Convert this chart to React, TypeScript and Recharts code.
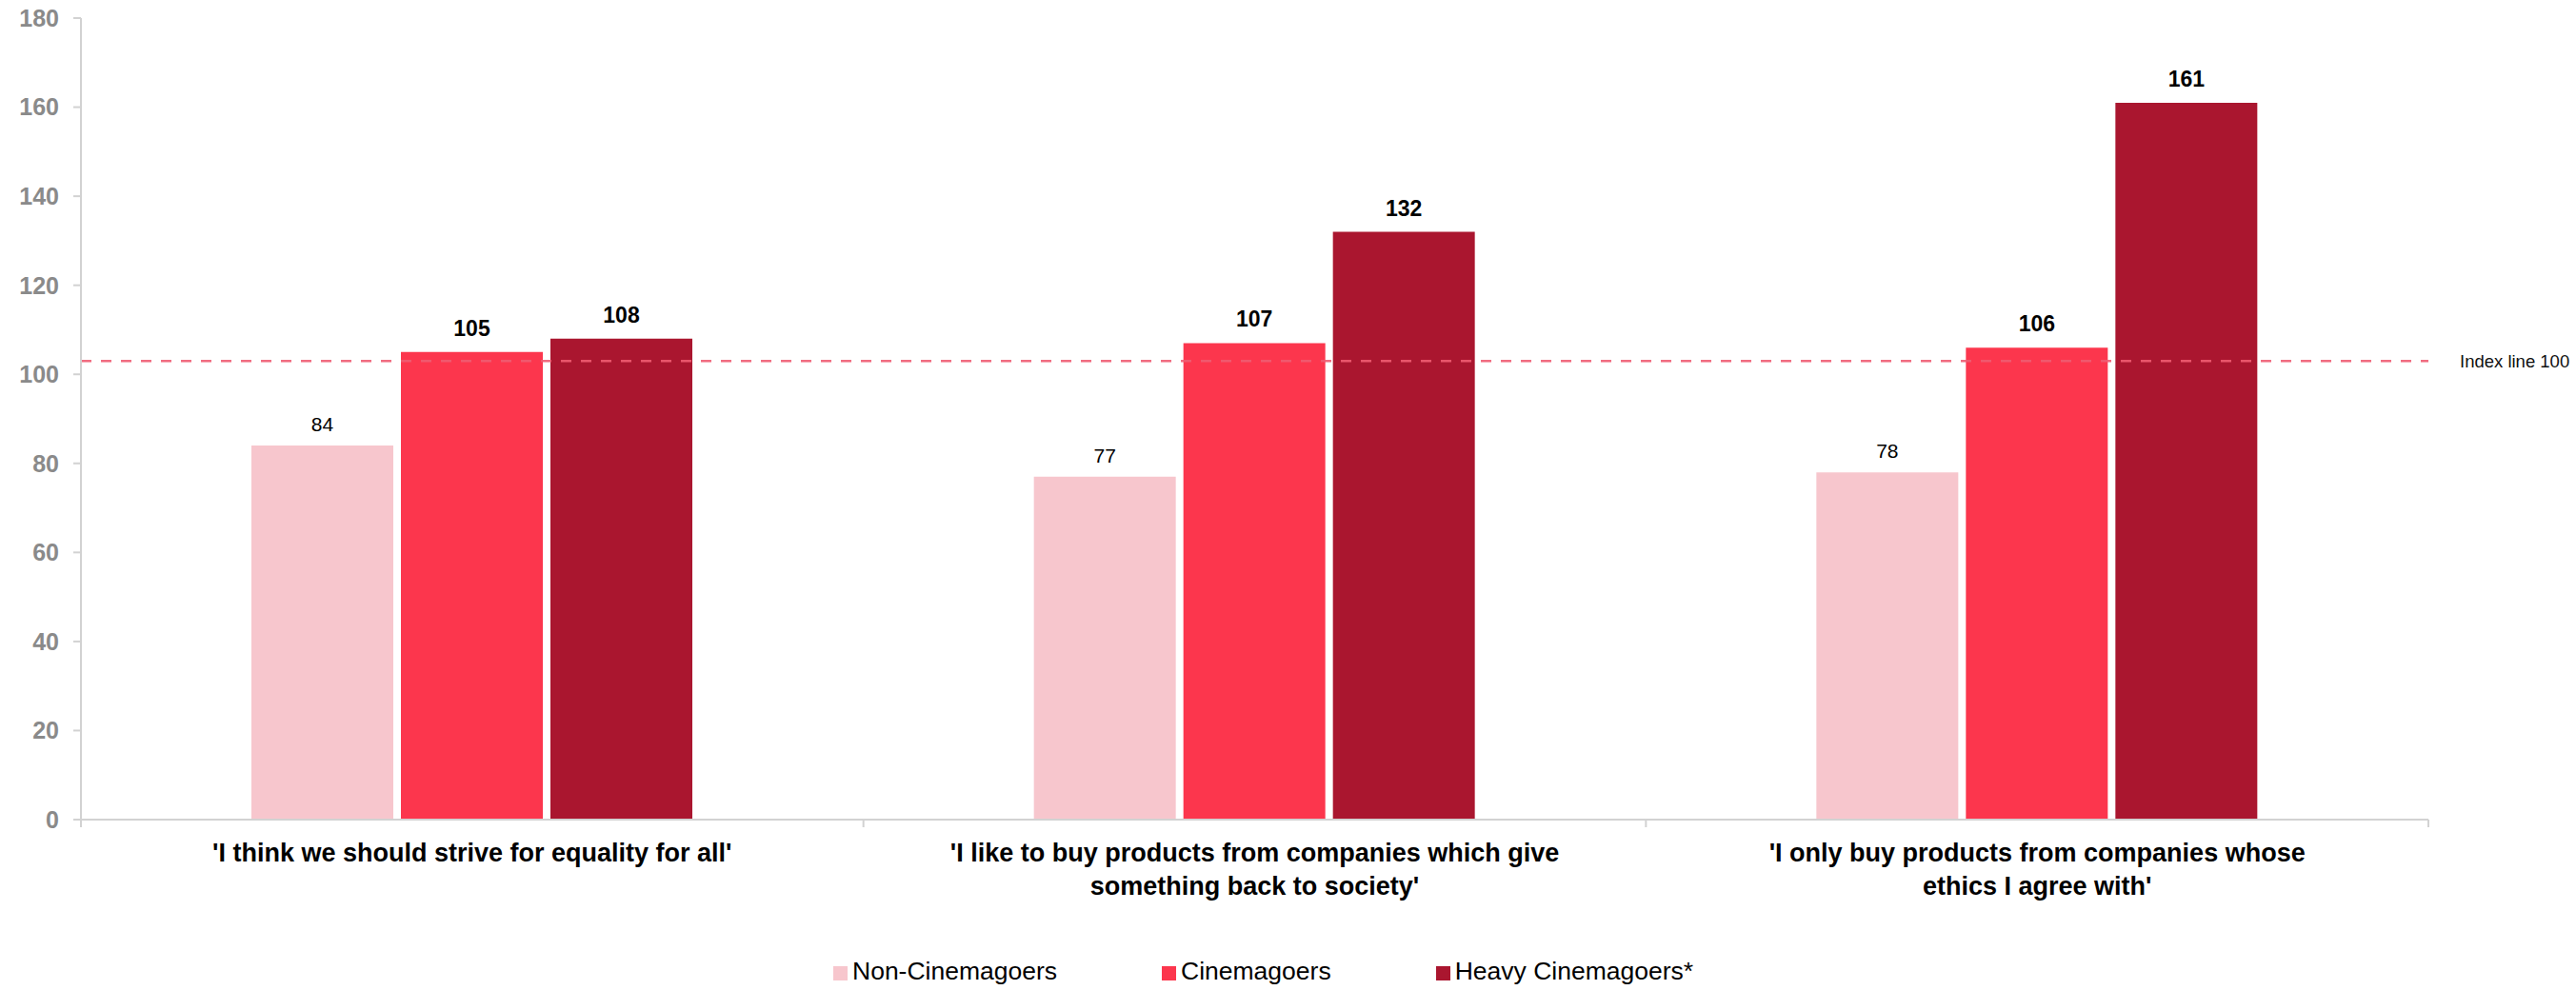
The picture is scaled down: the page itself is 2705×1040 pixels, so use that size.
import React from 'react';
import { BarChart, Bar, XAxis, YAxis, ReferenceLine, LabelList, Legend } from 'recharts';

// ---- data ----
const CATEGORY_LINES: string[][] = [
  ["'I think we should strive for equality for all'"],
  ["'I like to buy products from companies which give", "something back to society'"],
  ["'I only buy products from companies whose", "ethics I agree with'"],
];
const NON_CINEMAGOERS = [84, 77, 78];
const CINEMAGOERS = [105, 107, 106];
const HEAVY_CINEMAGOERS = [108, 132, 161];
const SERIES_NAMES = ['Non-Cinemagoers', 'Cinemagoers', 'Heavy Cinemagoers*'];
const Y_TICKS = [0, 20, 40, 60, 80, 100, 120, 140, 160, 180];
const INDEX_LINE_Y = 103;
const INDEX_LABEL = 'Index line 100';

// ---- style ----
const FONT = 'Arial, "Liberation Sans", sans-serif';
const COLORS = ['#F7C6CD', '#FC364D', '#AA162F'];
const AXIS_COLOR = '#D2D2D2';
const W = 2705;
const H = 1040;
const Y_AXIS_W = 85;
const M_RIGHT = 155;
const BAND_HALF = (W - Y_AXIS_W - M_RIGHT) / CATEGORY_LINES.length / 2;

const data = CATEGORY_LINES.map((lines, i) => ({
  category: lines.join(' '),
  lines,
  non: NON_CINEMAGOERS[i],
  cine: CINEMAGOERS[i],
  heavy: HEAVY_CINEMAGOERS[i],
}));

const CategoryTick = (props: any) => {
  const { x, y, payload, index } = props;
  const half = payload && typeof payload.offset === 'number' && payload.offset > 0 ? payload.offset : BAND_HALF;
  const lines = data[index] ? data[index].lines : [String(payload.value)];
  return (
    <g>
      <line x1={x - half} x2={x - half} y1={y} y2={y + 8} stroke={AXIS_COLOR} strokeWidth={2} />
      {index === data.length - 1 && (
        <line x1={x + half} x2={x + half} y1={y} y2={y + 8} stroke={AXIS_COLOR} strokeWidth={2} />
      )}
      <text x={x} y={y} textAnchor="middle" fontFamily={FONT} fontWeight="bold" fontSize={27} fill="#000">
        {lines.map((l: string, k: number) => (
          <tspan key={k} x={x} dy={k === 0 ? 44 : 35}>{l}</tspan>
        ))}
      </text>
    </g>
  );
};

const LegendContent = () => (
  <div style={{ display: 'flex', alignItems: 'flex-end', fontFamily: FONT, fontSize: 26.5, color: '#000', whiteSpace: 'nowrap' }}>
    {SERIES_NAMES.map((n, i) => (
      <div key={n} style={{ display: 'flex', alignItems: 'flex-end', marginRight: i < SERIES_NAMES.length - 1 ? 110 : 0 }}>
        <div style={{ width: 15, height: 15, background: COLORS[i], marginRight: 5, marginBottom: 5 }} />
        <span style={{ lineHeight: '30px' }}>{n}</span>
      </div>
    ))}
  </div>
);

export default function App() {
  return (
    <div style={{ position: 'absolute', left: 0, top: 0, width: W, height: H, background: '#fff' }}>
      <BarChart
        width={W}
        height={H}
        data={data}
        margin={{ top: 19, right: M_RIGHT, bottom: 79, left: 0 }}
        barSize={149}
        barGap={8}
      >
        <XAxis
          dataKey="category"
          interval={0}
          height={100}
          axisLine={{ stroke: AXIS_COLOR, strokeWidth: 2 }}
          tickLine={false}
          tickSize={0}
          tickMargin={0}
          tick={<CategoryTick />}
        />
        <YAxis
          width={Y_AXIS_W}
          domain={[0, 180]}
          ticks={Y_TICKS}
          interval={0}
          axisLine={{ stroke: AXIS_COLOR, strokeWidth: 2 }}
          tickLine={{ stroke: AXIS_COLOR, strokeWidth: 2 }}
          tickSize={8}
          tickMargin={15}
          tick={{ fill: '#8A8A8A', fontSize: 25, fontWeight: 'bold', fontFamily: FONT }}
        />
        <Legend
          layout="vertical"
          align="center"
          verticalAlign="middle"
          content={<LegendContent />}
          wrapperStyle={{ position: 'absolute', left: 875, top: 1005, width: 'auto', height: 'auto' }}
        />
        <Bar dataKey="non" name={SERIES_NAMES[0]} fill={COLORS[0]} isAnimationActive={false}>
          <LabelList dataKey="non" position="top" offset={15} fill="#000" fontSize={21} fontFamily={FONT} />
        </Bar>
        <Bar dataKey="cine" name={SERIES_NAMES[1]} fill={COLORS[1]} isAnimationActive={false}>
          <LabelList dataKey="cine" position="top" offset={17} fill="#000" fontSize={23} fontWeight="bold" fontFamily={FONT} />
        </Bar>
        <Bar dataKey="heavy" name={SERIES_NAMES[2]} fill={COLORS[2]} isAnimationActive={false}>
          <LabelList dataKey="heavy" position="top" offset={17} fill="#000" fontSize={23} fontWeight="bold" fontFamily={FONT} />
        </Bar>
        <ReferenceLine
          y={INDEX_LINE_Y}
          stroke="#EE5C72"
          strokeOpacity={0.9}
          strokeWidth={2.5}
          strokeDasharray="11 10"
          label={{ value: INDEX_LABEL, position: 'right', offset: 33, fill: '#111', fontSize: 18.5, fontFamily: FONT }}
        />
      </BarChart>
    </div>
  );
}
